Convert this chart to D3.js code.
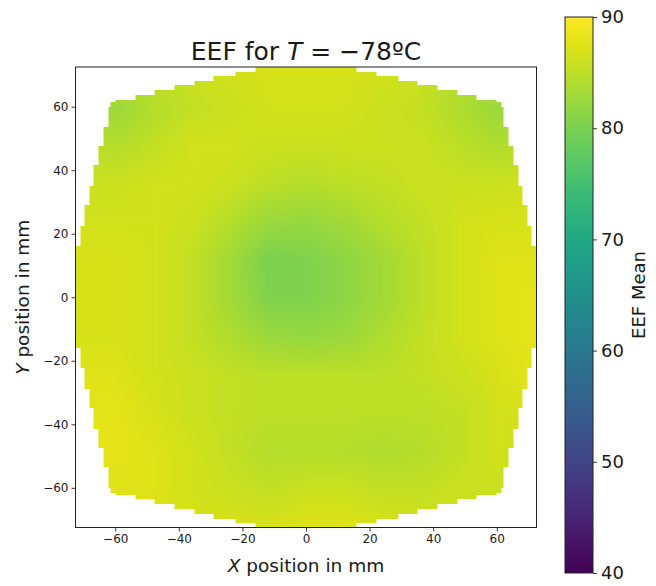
<!DOCTYPE html>
<html>
<head>
<meta charset="utf-8">
<script src="https://cdn.jsdelivr.net/npm/d3@7"></script>
<style>
  body { margin: 0; background: #fff; }
  text { font-family: "DejaVu Sans", sans-serif; fill: #1a1a1a; }
</style>
</head>
<body>
<svg id="chart" width="656" height="586"></svg>
<script>
// grid sample positions (mm) and EEF mean values
const xCenters = [-72, -60, -48, -36, -24, -12, 0, 12, 24, 36, 48, 60, 72];
const yCenters = [72, 60, 48, 36, 24, 12, 0, -12, -24, -36, -48, -60, -72];
const eef = [
  [86, 85, 85.5, 86, 86.5, 87, 87, 87, 86.5, 86, 85, 84, 84],
  [84, 82.5, 84.5, 85.5, 86, 86.5, 86.5, 86.5, 86, 85.5, 84, 82.5, 83],
  [85, 84.5, 85.5, 86.5, 86.5, 86, 86, 86, 86, 86, 85, 84, 85],
  [86, 86, 86.5, 86.5, 86, 85, 84.5, 85, 85.5, 86, 86, 86, 86.5],
  [86.5, 86.5, 86.5, 86, 84.5, 82.5, 82, 83, 84.5, 85.5, 86.5, 87, 87],
  [87, 87, 86.5, 85.5, 83, 80, 80.5, 81.5, 83, 85, 86.5, 87.5, 87.5],
  [87, 87, 86.5, 85.5, 83, 80.5, 80.5, 81.5, 83, 85, 86.5, 87.5, 88],
  [87, 87, 86.5, 85.5, 84, 82.5, 82, 82.5, 84, 85.5, 86.5, 87.5, 88],
  [87.5, 87.5, 86.5, 86, 85.5, 85, 85, 85, 85, 85.5, 86, 87, 88],
  [88, 88, 87, 86, 85.5, 85, 85, 85, 85, 85, 85.5, 86.5, 87],
  [88, 88, 87.5, 86.5, 85.5, 84.5, 84.5, 84.5, 84, 84.5, 85.5, 86.5, 86],
  [87.5, 87.5, 87.5, 86.5, 86, 85.5, 86, 86, 85.5, 85.5, 86, 86, 85],
  [87, 87, 87, 87, 87, 87, 87.5, 87.5, 87, 86.5, 86, 85, 85]
];

// sensor outline: for an offset a = min(|x|,|y|) the other coordinate reaches up to edgeReach
const edgeBreaks = [16, 22.3, 29, 35, 41.5, 47.5, 53.5, 60, 61.5];
const edgeReach = [72.5, 71, 69.8, 68.2, 66.8, 65.2, 63.6, 62.2, 61.5];

const xTicks = [-60, -40, -20, 0, 20, 40, 60];
const yTicks = [-60, -40, -20, 0, 20, 40, 60];
const cbarTicks = [40, 50, 60, 70, 80, 90];
const cbarDomain = [40, 90];

const svg = d3.select('#chart');
const plot = { left: 75.5, right: 536.5, top: 67, bottom: 527.5 };

const x = d3.scaleLinear().domain([-72.5, 72.5]).range([plot.left, plot.right]);
const y = d3.scaleLinear().domain([-72.5, 72.5]).range([plot.bottom, plot.top]);
const color = d3.scaleSequential(d3.interpolateViridis).domain(cbarDomain);

function inside(mx, my) {
    const a = Math.min(Math.abs(mx), Math.abs(my));
    const b = Math.max(Math.abs(mx), Math.abs(my));
    const i = edgeBreaks.findIndex(e => a < e);
    if (i < 0) return false;
    return b <= edgeReach[i];
}

// coarse image of the samples, smoothed up to plot size
const nx = xCenters.length, ny = yCenters.length;
const small = document.createElement('canvas');
small.width = nx; small.height = ny;
const sctx = small.getContext('2d');
const simg = sctx.createImageData(nx, ny);
eef.forEach((row, j) => row.forEach((v, i) => {
    const c = d3.rgb(color(v));
    const k = (j * nx + i) * 4;
    simg.data[k] = c.r; simg.data[k + 1] = c.g; simg.data[k + 2] = c.b; simg.data[k + 3] = 255;
}));
sctx.putImageData(simg, 0, 0);

const pw = Math.round(plot.right - plot.left), ph = Math.round(plot.bottom - plot.top);
const big = document.createElement('canvas');
big.width = pw; big.height = ph;
const bctx = big.getContext('2d');
bctx.imageSmoothingEnabled = true;
const step = xCenters[1] - xCenters[0];
const ix0 = x(xCenters[0] - step / 2) - plot.left, ix1 = x(xCenters[nx - 1] + step / 2) - plot.left;
const iy0 = y(yCenters[0] + step / 2) - plot.top, iy1 = y(yCenters[ny - 1] - step / 2) - plot.top;
bctx.drawImage(small, ix0, iy0, ix1 - ix0, iy1 - iy0);

const img = bctx.getImageData(0, 0, pw, ph);
for (let py = 0; py < ph; py++) {
    for (let px = 0; px < pw; px++) {
        const mx = x.invert(plot.left + px + 0.5), my = y.invert(plot.top + py + 0.5);
        if (!inside(mx, my)) img.data[(py * pw + px) * 4 + 3] = 0;
    }
}
bctx.putImageData(img, 0, 0);

svg.append('image')
    .attr('x', plot.left).attr('y', plot.top)
    .attr('width', pw).attr('height', ph)
    .attr('href', big.toDataURL());

// axes
const xAxis = svg.append('g')
    .attr('transform', `translate(0,${plot.bottom})`)
    .call(d3.axisBottom(x).tickValues(xTicks).tickSize(4).tickPadding(3));
const yAxis = svg.append('g')
    .attr('transform', `translate(${plot.left},0)`)
    .call(d3.axisLeft(y).tickValues(yTicks).tickSize(4).tickPadding(3));
[xAxis, yAxis].forEach(g => {
    g.select('.domain').remove();
    g.selectAll('line').attr('stroke', '#222').attr('stroke-width', 0.9);
    g.selectAll('text').attr('font-size', 12).attr('font-family', 'DejaVu Sans').attr('fill', '#1a1a1a');
});

svg.append('rect')
    .attr('x', plot.left).attr('y', plot.top)
    .attr('width', plot.right - plot.left).attr('height', plot.bottom - plot.top)
    .attr('fill', 'none').attr('stroke', '#222').attr('stroke-width', 1);

// title and labels
const title = svg.append('text')
    .attr('x', (plot.left + plot.right) / 2).attr('y', 60)
    .attr('text-anchor', 'middle').attr('font-size', 25);
title.append('tspan').text('EEF for ');
title.append('tspan').attr('font-style', 'italic').text('T');
title.append('tspan').text(' = −78ºC');

const xl = svg.append('text')
    .attr('x', (plot.left + plot.right) / 2).attr('y', 572)
    .attr('text-anchor', 'middle').attr('font-size', 18.5);
xl.append('tspan').attr('font-style', 'italic').text('X');
xl.append('tspan').text(' position in mm');

const yl = svg.append('text')
    .attr('transform', `translate(29,${(plot.top + plot.bottom) / 2}) rotate(-90)`)
    .attr('text-anchor', 'middle').attr('font-size', 18.5);
yl.append('tspan').attr('font-style', 'italic').text('Y');
yl.append('tspan').text(' position in mm');

// colorbar
const cb = { left: 565, width: 28, top: 17, bottom: 573 };
const cScale = d3.scaleLinear().domain(cbarDomain).range([cb.bottom, cb.top]);
const grad = svg.append('defs').append('linearGradient')
    .attr('id', 'vir').attr('x1', 0).attr('y1', 1).attr('x2', 0).attr('y2', 0);
d3.range(0, 1.0001, 0.05).forEach(t => {
    grad.append('stop').attr('offset', t).attr('stop-color', d3.interpolateViridis(t));
});
svg.append('rect')
    .attr('x', cb.left).attr('y', cb.top)
    .attr('width', cb.width).attr('height', cb.bottom - cb.top)
    .attr('fill', 'url(#vir)').attr('stroke', '#222').attr('stroke-width', 1);

const cAxis = svg.append('g')
    .attr('transform', `translate(${cb.left + cb.width},0)`)
    .call(d3.axisRight(cScale).tickValues(cbarTicks).tickSize(4).tickPadding(4));
cAxis.select('.domain').remove();
cAxis.selectAll('line').attr('stroke', '#222').attr('stroke-width', 0.9);
cAxis.selectAll('text').attr('font-size', 18).attr('font-family', 'DejaVu Sans').attr('fill', '#1a1a1a');

svg.append('text')
    .attr('transform', `translate(645,${(cb.top + cb.bottom) / 2}) rotate(-90)`)
    .attr('text-anchor', 'middle').attr('font-size', 18)
    .text('EEF Mean');
</script>
</body>
</html>
